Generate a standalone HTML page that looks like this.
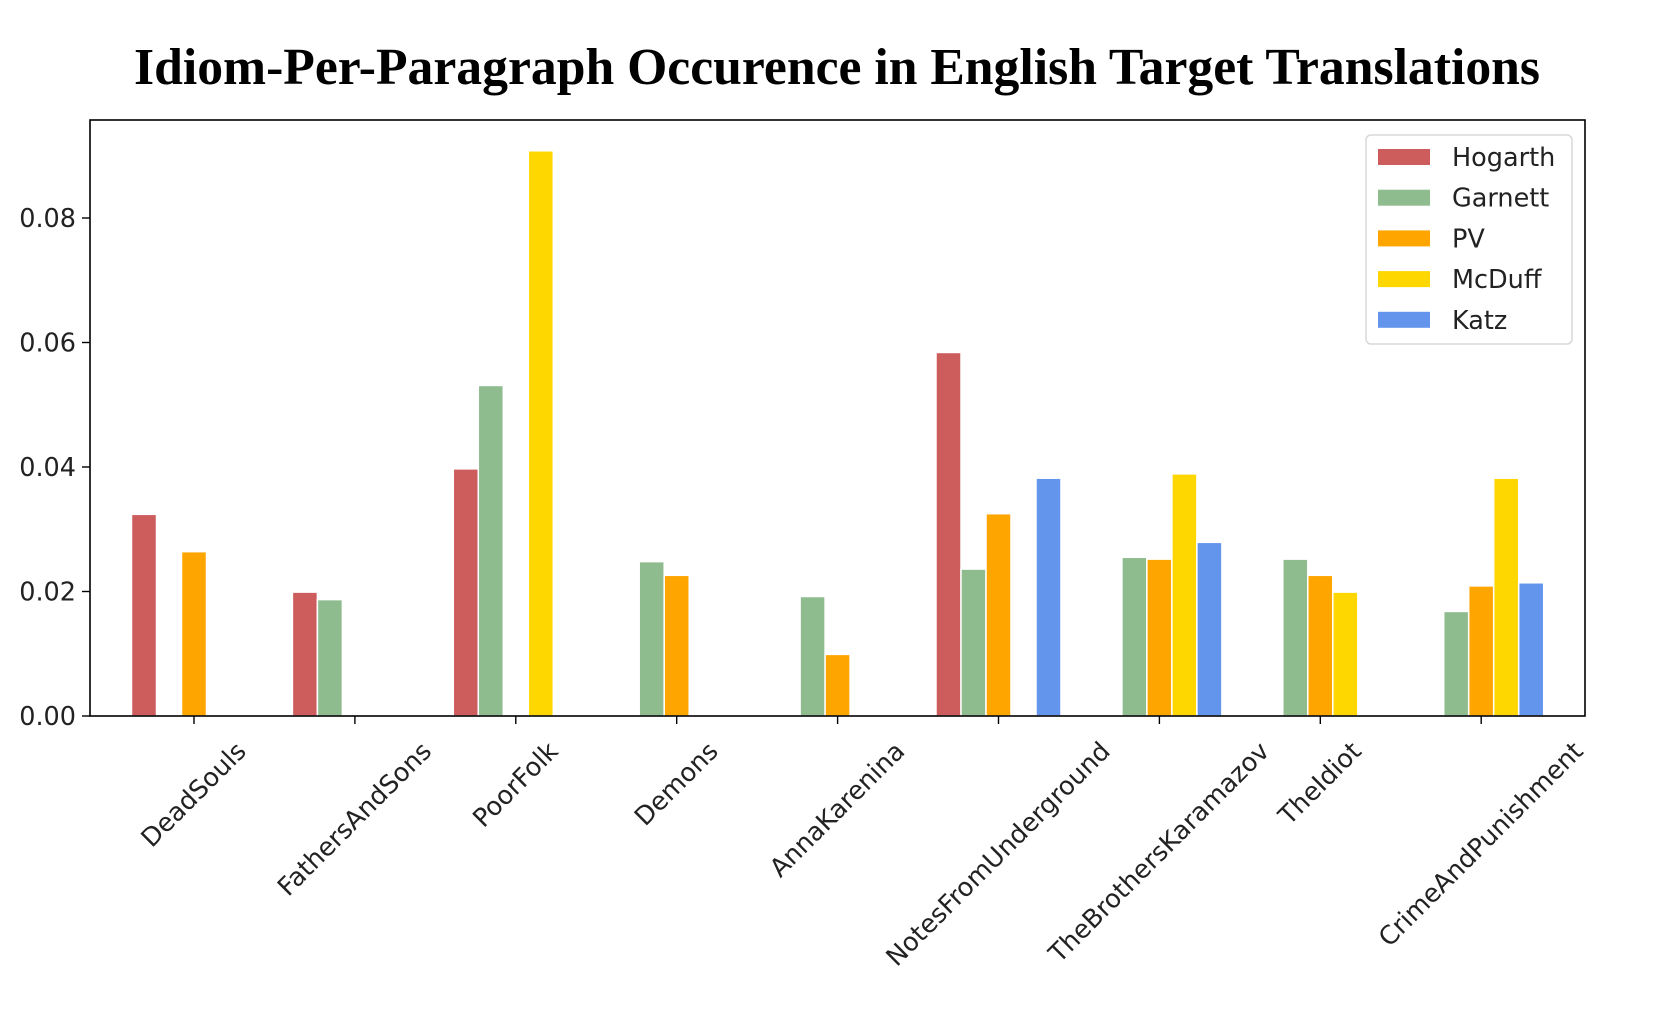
<!DOCTYPE html>
<html><head><meta charset="utf-8"><style>
html,body{margin:0;padding:0;background:#fff;}
svg text{font-family:"DejaVu Sans","Liberation Sans",sans-serif;}
</style></head><body>
<svg id="chart" width="1668" height="1008" xmlns="http://www.w3.org/2000/svg">
<rect width="1668" height="1008" fill="#fff"/>
<text x="837" y="84" text-anchor="middle" font-size="52" font-weight="bold" style="font-family:'Liberation Serif',serif" textLength="1406" lengthAdjust="spacingAndGlyphs">Idiom-Per-Paragraph Occurence in English Target Translations</text>
<g id="plot"></g>
</svg>
<script>
const categories=["DeadSouls","FathersAndSons","PoorFolk","Demons","AnnaKarenina","NotesFromUnderground","TheBrothersKaramazov","TheIdiot","CrimeAndPunishment"];
const seriesNames=["Hogarth","Garnett","PV","McDuff","Katz"];
const hogarth=[0.0324,0.0199,0.0397,0,0,0.0584,0,0,0];
const garnett=[0,0.0187,0.0531,0.0248,0.0192,0.0236,0.0255,0.0252,0.0168];
const pv=[0.0264,0,0,0.0226,0.0099,0.0325,0.0252,0.0226,0.0209];
const mcduff=[0,0,0.0908,0,0,0,0.0389,0.0199,0.0382];
const katz=[0,0,0,0,0,0.0382,0.0279,0,0.0214];
const yTicks=[0,0.02,0.04,0.06,0.08];
const yTickLabels=["0.00","0.02","0.04","0.06","0.08"];
const colors=["#cd5c5c","#8fbc8f","#ffa500","#ffd700","#6495ed"];
const allSeries=[hogarth,garnett,pv,mcduff,katz];

const NS="http://www.w3.org/2000/svg";
const g=document.getElementById('plot');
const L=90,R=1585,T=120,B=716;
const x0=194,step=160.9,barStep=25;
const FS=25.5;
const yScale=v=>B-v/0.02*124.5;
const xScale=i=>x0+i*step;
function mk(tag,attrs,parent){const e=document.createElementNS(NS,tag);for(const k in attrs)e.setAttribute(k,attrs[k]);(parent||g).appendChild(e);return e;}

allSeries.forEach((s,si)=>{
  s.forEach((v,ci)=>{
    if(!v)return;
    const cx=xScale(ci)+(si-2)*barStep;
    const r=mk('rect',{x:cx-barStep/2,y:yScale(v),width:barStep,height:B-yScale(v),fill:colors[si],stroke:'#fff','stroke-width':1.5});
    
    
  });
});
const frame=mk('rect',{x:L,y:T,width:R-L,height:B-T,fill:'none',stroke:'#000','stroke-width':1.6});



yTicks.forEach((v,i)=>{
  const y=yScale(v);
  const t=mk('line',{x1:L-8,x2:L,y1:y,y2:y,stroke:'#000','stroke-width':1.4});
  
  
  const lb=mk('text',{x:L-14,y:y+9,'text-anchor':'end','font-size':FS,fill:'#222'});
  lb.textContent=yTickLabels[i];
  
  
});
categories.forEach((c,i)=>{
  const x=xScale(i);
  const t=mk('line',{x1:x,x2:x,y1:B,y2:B+8,stroke:'#000','stroke-width':1.4});
  
  
  const lb=mk('text',{x:0,y:0,'text-anchor':'middle','dominant-baseline':'central','font-size':FS,fill:'#222'});
  lb.textContent=c;
  
  
  const w=lb.getComputedTextLength(),h=FS;
  const half=(w+h)/(2*Math.SQRT2);
  lb.setAttribute('transform','translate('+x+','+(738+half)+') rotate(-45)');
});
const lg=mk('g',{});


mk('rect',{x:1366,y:135,width:206,height:209,rx:5,fill:'#fff',stroke:'#d8d8d8','stroke-width':1.5},lg);
seriesNames.forEach((n,i)=>{
  const cy=157+i*40.7;
  const p=mk('rect',{x:1378,y:cy-8,width:52,height:16,fill:colors[i]},lg);
  
  
  const t=mk('text',{x:1452,y:cy+9,'font-size':FS,fill:'#222'},lg);
  t.textContent=n;
  
  
});
</script>
</body></html>
